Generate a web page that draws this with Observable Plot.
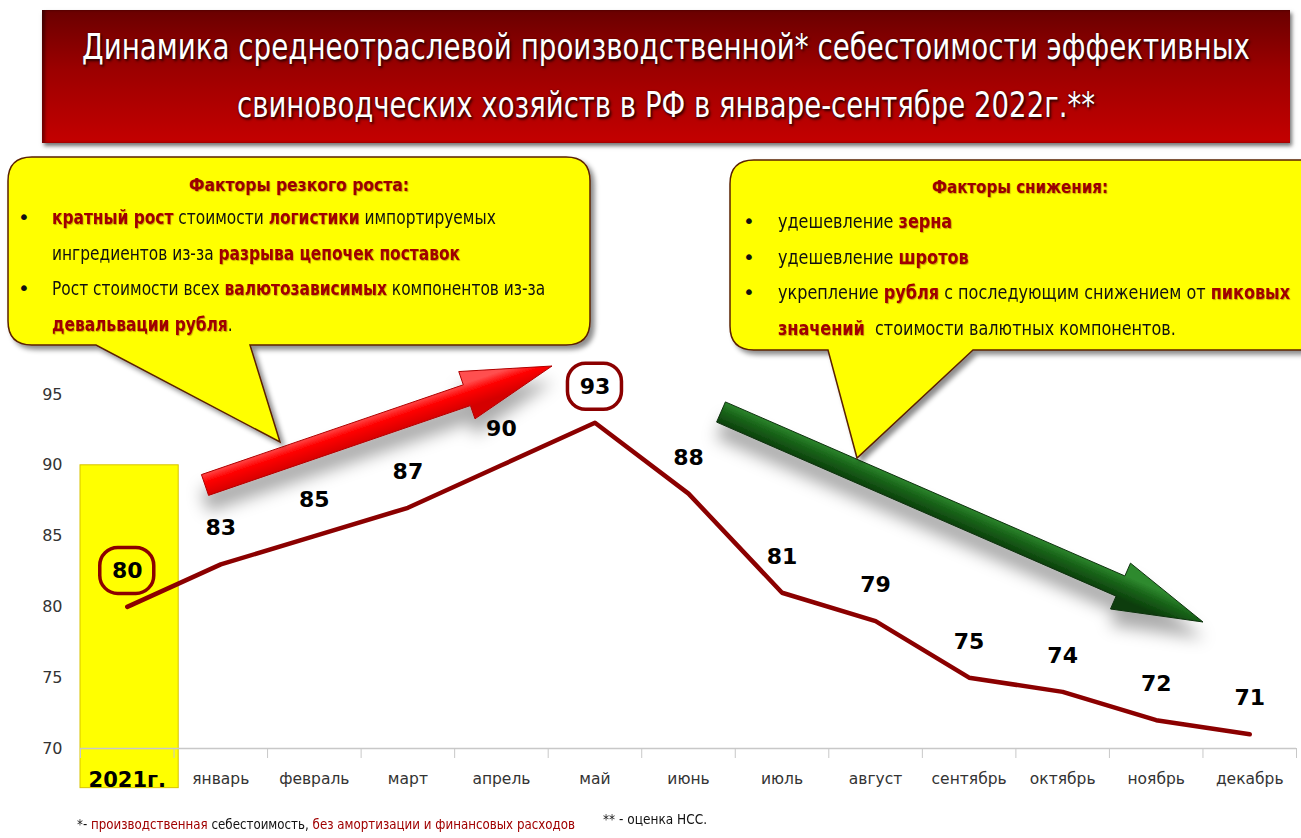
<!DOCTYPE html>
<html>
<head>
<meta charset="utf-8">
<script src="https://cdn.jsdelivr.net/npm/d3@7"></script>
<script src="https://cdn.jsdelivr.net/npm/@observablehq/plot@0.6"></script>
<style>
  html, body { margin: 0; padding: 0; background: #fff; }
  #root { position: relative; width: 1301px; height: 838px; overflow: hidden; background: #fff;
          font-family: "DejaVu Sans", "Liberation Sans", sans-serif; }
  #deco, #chart { position: absolute; left: 0; top: 0; }
  .abs { position: absolute; }
  .fit { display: inline-block; white-space: nowrap; }
  #title { left: 42px; top: 10px; width: 1248px; height: 133px;
           background: linear-gradient(to bottom, #6a0000 0%, #9c0000 45%, #c40000 100%);
           box-shadow: 2px 3px 4px rgba(0,0,0,0.55), inset 3px 0 3px rgba(0,0,0,0.4);
           color: #fff; font-size: 36px; box-sizing: border-box; padding-top: 8px;
           text-shadow: 2px 2px 3px #2a0000, 0 0 2px #400000; }
  #title > div { height: 58px; line-height: 58px; white-space: nowrap; text-align: left; }
  .ctitle { font-weight: bold; color: #9a0000; text-decoration: underline; font-size: 18px; text-align: left;
            text-shadow: 1px 1px 1px rgba(120,0,0,0.35); white-space: nowrap; }
  .line { height: 35.7px; line-height: 35.7px; font-size: 20px; color: #111; white-space: nowrap; position: relative; }
  .line .b { position: absolute; }
  .hl { color: #a00000; font-weight: bold; text-shadow: 1px 1px 1px rgba(100,0,0,0.35); }
  .foot { font-size: 14px; color: #111; white-space: nowrap; }
  .foot .r { color: #a00000; }
</style>
</head>
<body>
<div id="root">
  <svg id="deco" width="1301" height="838"></svg>
  <div id="chart"></div>
  <div id="title" class="abs"></div>
  <div class="abs ctitle" style="left:8px; width:582px; top:173px; line-height:24px;"><span class="fit" data-w="220" data-o="center">Факторы резкого роста:</span></div>
  <div id="leftText" class="abs" style="left:18px; top:200px;"></div>
  <div class="abs ctitle" style="left:730px; width:580px; top:175px; line-height:24px;"><span class="fit" data-w="176" data-o="center">Факторы снижения:</span></div>
  <div id="rightText" class="abs" style="left:743px; top:204px;"></div>
  <div class="abs foot" style="left:77px; top:816px;"><span class="fit" data-w="498" data-o="left">*- <span class="r">производственная</span> себестоимость, <span class="r">без амортизации и финансовых расходов</span></span></div>
  <div class="abs foot" style="left:603px; top:811px;"><span class="fit" data-w="104" data-o="left">** - оценка НСС.</span></div>
</div>
<script>
// ---------------- data ----------------
const categories = ["2021г.", "январь", "февраль", "март", "апрель", "май", "июнь", "июль", "август", "сентябрь", "октябрь", "ноябрь", "декабрь"];
const values = [80, 83, 85, 87, 90, 93, 88, 81, 79, 75, 74, 72, 71];
const yTicks = [70, 75, 80, 85, 90, 95];
const boxedCategories = ["2021г.", "май"];
const baseYearCategory = "2021г.";
const baseYearBarTop = 90;

const titleLines = [
  "Динамика среднеотраслевой производственной* себестоимости эффективных",
  "свиноводческих хозяйств в РФ в январе-сентябре 2022г.**"
];
// callout lines: [bullet?, segments [text, highlighted?]]
const growthFactors = [
  [true,  [[" кратный рост", 1], [" стоимости ", 0], ["логистики", 1], [" импортируемых", 0]]],
  [false, [["ингредиентов из-за ", 0], ["разрыва цепочек поставок", 1]]],
  [true,  [["Рост стоимости всех ", 0], ["валютозависимых", 1], [" компонентов из-за", 0]]],
  [false, [["девальвации рубля", 1], [".", 0]]]
];
const declineFactors = [
  [true,  [["удешевление ", 0], ["зерна", 1]]],
  [true,  [["удешевление ", 0], ["шротов", 1]]],
  [true,  [["укрепление ", 0], ["рубля", 1], [" с последующим снижением от ", 0], ["пиковых", 1]]],
  [false, [["значений", 1], ["\u00a0 стоимости валютных компонентов.", 0]]]
];

const table = categories.map((c, i) => ({i, c, v: values[i], boxed: boxedCategories.includes(c)}));
const FONT = '"DejaVu Sans", "Liberation Sans", sans-serif';

// ---------------- text blocks ----------------
const titleTargets = [1168, 858];
document.getElementById("title").innerHTML = titleLines.map((t, k) =>
  `<div><span class="fit" data-w="${titleTargets[k]}" data-o="center">${t}</span></div>`).join("");

function fillLines(id, lines, textLeft, refLine, refWidth) {
  const el = document.getElementById(id);
  el.innerHTML = lines.map(([bullet, segs], k) =>
    `<div class="line">${bullet ? '<span class="b" style="left:0">•</span>' : ''}<span class="fit seg" style="position:absolute; left:${textLeft}px">${
      segs.map(([t, h]) => h ? `<span class="hl">${t}</span>` : `<span>${t}</span>`).join("")}</span></div>`
  ).join("");
  const spans = el.querySelectorAll(".seg");
  const s = refWidth / spans[refLine].getBoundingClientRect().width;
  spans.forEach(sp => { sp.style.transformOrigin = "left center"; sp.style.transform = `scaleX(${s})`; });
}
fillLines("leftText", growthFactors, 34, 1, 408);
fillLines("rightText", declineFactors, 35, 2, 512);

// fit spans to target widths (centred ones centred in their parent box)
document.querySelectorAll(".fit[data-w]").forEach(sp => {
  const w = sp.getBoundingClientRect().width;
  const target = +sp.dataset.w;
  const s = target / w;
  let tx = 0;
  if (sp.dataset.o === "center") {
    const P = sp.parentElement.clientWidth;
    tx = (P - target) / 2 - sp.offsetLeft;
  }
  sp.style.transformOrigin = "left center";
  sp.style.transform = `translateX(${tx}px) scaleX(${s})`;
});

// ---------------- decorations (callouts, arrows) ----------------
const deco = d3.select("#deco");
const defs = deco.append("defs");
const fs = defs.append("filter").attr("id", "boxShadow").attr("x", "-10%").attr("y", "-10%").attr("width", "130%").attr("height", "140%");
fs.append("feDropShadow").attr("dx", 4).attr("dy", 4).attr("stdDeviation", 2.5).attr("flood-color", "#000").attr("flood-opacity", 0.45);
const fa = defs.append("filter").attr("id", "arrowShadow").attr("x", "-20%").attr("y", "-50%").attr("width", "140%").attr("height", "250%");
fa.append("feDropShadow").attr("dx", 0).attr("dy", 16).attr("stdDeviation", 8).attr("flood-color", "#000").attr("flood-opacity", 0.33);

function arrowPath(T, P, bw, headL, hw) {
  const dx = P[0] - T[0], dy = P[1] - T[1], L = Math.hypot(dx, dy);
  const u = [dx / L, dy / L], n = [-u[1], u[0]];
  const B = [P[0] - u[0] * headL, P[1] - u[1] * headL];
  const pt = (b, s) => [b[0] + n[0] * s, b[1] + n[1] * s];
  const pts = [pt(T, bw / 2), pt(B, bw / 2), pt(B, hw / 2), P, pt(B, -hw / 2), pt(B, -bw / 2), pt(T, -bw / 2)];
  return "M" + pts.map(p => p.join(",")).join("L") + "Z";
}
function arrow(T, P, fillTop, fillMid, fillBot, stroke, id) {
  const dx = P[0] - T[0], dy = P[1] - T[1], L = Math.hypot(dx, dy);
  const n = [-dy / L, dx / L];
  const g = defs.append("linearGradient").attr("id", id).attr("gradientUnits", "userSpaceOnUse")
    .attr("x1", T[0] - n[0] * 12).attr("y1", T[1] - n[1] * 12).attr("x2", T[0] + n[0] * 12).attr("y2", T[1] + n[1] * 12);
  g.append("stop").attr("offset", "0%").attr("stop-color", fillTop);
  g.append("stop").attr("offset", "40%").attr("stop-color", fillMid);
  g.append("stop").attr("offset", "100%").attr("stop-color", fillBot);
  deco.append("path").attr("d", arrowPath(T, P, 22, 90, 50))
    .attr("fill", `url(#${id})`).attr("stroke", stroke).attr("stroke-width", 1)
    .attr("filter", "url(#arrowShadow)");
}
arrow([205, 485], [552, 366], "#ff5050", "#ff0000", "#d40000", "#b00000", "gRed");
arrow([721, 412], [1203, 622], "#2f8a2f", "#1a661a", "#0b3d0b", "#0a300a", "gGreen");

function calloutPath(x0, y0, x1, y1, r, bx1, bx2, tip) {
  return `M${x0 + r},${y0} H${x1 - r} Q${x1},${y0} ${x1},${y0 + r} V${y1 - r} Q${x1},${y1} ${x1 - r},${y1}` +
         ` H${bx2} L${tip[0]},${tip[1]} L${bx1},${y1} H${x0 + r} Q${x0},${y1} ${x0},${y1 - r} V${y0 + r} Q${x0},${y0} ${x0 + r},${y0} Z`;
}
deco.append("path").attr("d", calloutPath(8, 157, 590, 345, 24, 96, 250, [280, 442]))
  .attr("fill", "#ffff00").attr("stroke", "#5a2000").attr("stroke-width", 1.5).attr("filter", "url(#boxShadow)");
deco.append("path").attr("d", calloutPath(730, 160, 1330, 350, 24, 828, 973, [857, 458]))
  .attr("fill", "#ffff00").attr("stroke", "#5a2000").attr("stroke-width", 1.5).attr("filter", "url(#boxShadow)");

// ---------------- chart ----------------
const barRow = table.filter(d => d.c === baseYearCategory).map(d => ({x1: d.i - 0.5, x2: d.i + 0.55, y2: baseYearBarTop}));
const boundaries = d3.range(-0.5, categories.length, 1);

const boxMark = (index, scales) => {
  const g = d3.create("svg:g");
  for (const d of table.filter(d => d.boxed)) {
    const cx = scales.x(d.i), cy = scales.y(d.v) - 36;
    g.append("rect").attr("x", cx - 27).attr("y", cy - 23).attr("width", 54).attr("height", 46)
      .attr("rx", 18).attr("ry", 18).attr("fill", "none").attr("stroke", "#8b0000").attr("stroke-width", 3.5);
  }
  return g.node();
};

const plot = Plot.plot({
  width: 1301,
  height: 838,
  marginLeft: 80,
  marginRight: 5,
  marginTop: 394,
  marginBottom: 90,
  style: {background: "transparent", fontFamily: FONT, overflow: "visible"},
  x: {type: "linear", domain: [-0.5, categories.length - 0.5]},
  y: {domain: [70, 95]},
  marks: [
    Plot.rect(barRow, {x1: "x1", x2: "x2", y1: () => 67.2, y2: "y2", fill: "#ffff00", stroke: "#d8c400", strokeWidth: 1}),
    Plot.ruleY([70], {stroke: "#c8c8c8", strokeWidth: 1.5}),
    Plot.axisX(boundaries, {tickSize: 10, tickFormat: () => "", stroke: "#c8c8c8", label: null}),
    Plot.axisX(table.map(d => d.i), {tickSize: 0, tickPadding: 24, tickFormat: i => categories[i], fontSize: 15.5, color: "#333", label: null}),
    Plot.axisY(yTicks, {tickSize: 0, tickPadding: 18, fontSize: 16, color: "#333", label: null}),
    Plot.line(table, {x: "i", y: "v", stroke: "#8b0000", strokeWidth: 4.5, strokeLinejoin: "round", strokeLinecap: "round"}),
    Plot.text(table, {x: "i", y: "v", text: d => String(d.v), dy: -36, fontSize: 22, fontWeight: "bold", fill: "#000"}),
    boxMark
  ]
});
document.getElementById("chart").appendChild(plot);

// emphasise base-year label
d3.select(plot).selectAll("text").filter(function () { return this.textContent === baseYearCategory; })
  .attr("font-weight", "bold").attr("font-size", 21).attr("fill", "#000").style("fill", "#000");
// subtle shadows
d3.select(plot).selectAll("path").filter(function () { return this.getAttribute("stroke") === "#8b0000"; })
  .style("filter", "drop-shadow(1px 2px 1.5px rgba(0,0,0,0.35))");
d3.select(plot).selectAll("rect").filter(function () { return this.getAttribute("fill") === "#ffff00"; })
  .style("filter", "drop-shadow(3px 4px 3px rgba(0,0,0,0.4))");
</script>
</body>
</html>
